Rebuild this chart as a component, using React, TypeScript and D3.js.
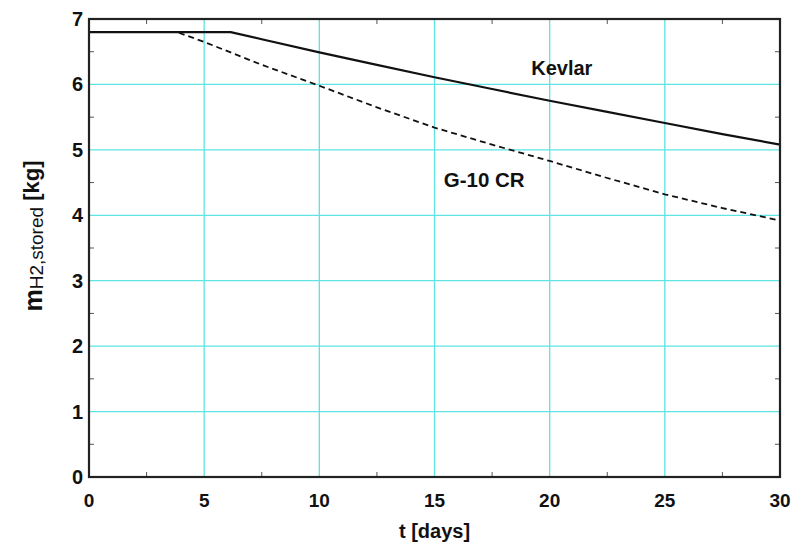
import * as d3 from 'd3';
import {useEffect, useRef} from 'react';

// t [days] / stored mass [kg]
const kevlarT = [0, 6.15, 7.5, 10, 12.5, 15, 17.5, 20, 22.5, 25, 27.5, 30];
const kevlarM = [6.8, 6.8, 6.69, 6.49, 6.3, 6.11, 5.93, 5.75, 5.58, 5.41, 5.24, 5.08];
const g10T = [0, 3.82, 5, 7.5, 10, 12.5, 15, 17.5, 20, 22.5, 25, 27.5, 30];
const g10M = [6.8, 6.8, 6.65, 6.3, 5.98, 5.65, 5.34, 5.08, 4.83, 4.57, 4.32, 4.11, 3.92];

const xTicks = [0, 5, 10, 15, 20, 25, 30];
const yTicks = [0, 1, 2, 3, 4, 5, 6, 7];
const xMinor = [2.5, 7.5, 12.5, 17.5, 22.5, 27.5];
const yMinor = [0.5, 1.5, 2.5, 3.5, 4.5, 5.5, 6.5];

const W = 802;
const H = 544;
const margin = {top: 19, right: 22, bottom: 67, left: 89};

export default function App() {
	const svgRef = useRef<SVGSVGElement>(null);

	useEffect(() => {
		const svg = d3.select(svgRef.current);
		svg.selectAll('*').remove();

		const iw = W - margin.left - margin.right;
		const ih = H - margin.top - margin.bottom;
		const x = d3.scaleLinear().domain([0, 30]).range([0, iw]);
		const y = d3.scaleLinear().domain([0, 7]).range([ih, 0]);

		const g = svg.append('g').attr('transform', `translate(${margin.left},${margin.top})`);

		// grid
		g.selectAll('.gx')
			.data(xTicks.slice(1, -1))
			.join('line')
			.attr('x1', (d) => x(d))
			.attr('x2', (d) => x(d))
			.attr('y1', 0)
			.attr('y2', ih)
			.attr('stroke', '#5fe3e3')
			.attr('stroke-width', 1.3);
		g.selectAll('.gy')
			.data(yTicks.slice(1, -1))
			.join('line')
			.attr('x1', 0)
			.attr('x2', iw)
			.attr('y1', (d) => y(d))
			.attr('y2', (d) => y(d))
			.attr('stroke', '#5fe3e3')
			.attr('stroke-width', 1.3);

		// minor ticks, inward on all sides
		const tk = 5;
		xMinor.forEach((t) => {
			g.append('line').attr('x1', x(t)).attr('x2', x(t)).attr('y1', ih).attr('y2', ih - tk).attr('stroke', '#555').attr('stroke-width', 1);
			g.append('line').attr('x1', x(t)).attr('x2', x(t)).attr('y1', 0).attr('y2', tk).attr('stroke', '#555').attr('stroke-width', 1);
		});
		yMinor.forEach((v) => {
			g.append('line').attr('x1', 0).attr('x2', tk).attr('y1', y(v)).attr('y2', y(v)).attr('stroke', '#555').attr('stroke-width', 1);
			g.append('line').attr('x1', iw).attr('x2', iw - tk).attr('y1', y(v)).attr('y2', y(v)).attr('stroke', '#555').attr('stroke-width', 1);
		});

		// curves
		const line = d3
			.line<[number, number]>()
			.x((d) => x(d[0]))
			.y((d) => y(d[1]));

		g.append('path')
			.datum(g10T.map((t, i) => [t, g10M[i]] as [number, number]))
			.attr('d', line)
			.attr('fill', 'none')
			.attr('stroke', '#111')
			.attr('stroke-width', 1.8)
			.attr('stroke-dasharray', '6,4');

		g.append('path')
			.datum(kevlarT.map((t, i) => [t, kevlarM[i]] as [number, number]))
			.attr('d', line)
			.attr('fill', 'none')
			.attr('stroke', '#111')
			.attr('stroke-width', 2.2)
			.attr('stroke-linejoin', 'round');

		// frame
		g.append('rect')
			.attr('width', iw)
			.attr('height', ih)
			.attr('fill', 'none')
			.attr('stroke', '#222')
			.attr('stroke-width', 2.2);

		const font = 'Liberation Sans, Arial, sans-serif';

		g.selectAll('.xl')
			.data(xTicks)
			.join('text')
			.attr('x', (d) => x(d))
			.attr('y', ih + 30)
			.attr('text-anchor', 'middle')
			.attr('font-family', font)
			.attr('font-weight', 'bold')
			.attr('font-size', 19)
			.attr('fill', '#111')
			.text((d) => d);

		g.selectAll('.yl')
			.data(yTicks)
			.join('text')
			.attr('x', -6)
			.attr('y', (d) => y(d) + 7)
			.attr('text-anchor', 'end')
			.attr('font-family', font)
			.attr('font-weight', 'bold')
			.attr('font-size', 20)
			.attr('fill', '#111')
			.text((d) => d);

		// series labels
		g.append('text')
			.attr('x', x(19.2))
			.attr('y', y(6.15))
			.attr('font-family', font)
			.attr('font-weight', 'bold')
			.attr('font-size', 20)
			.attr('fill', '#111')
			.text('Kevlar');
		g.append('text')
			.attr('x', x(15.4))
			.attr('y', y(4.43))
			.attr('font-family', font)
			.attr('font-weight', 'bold')
			.attr('font-size', 20.5)
			.attr('fill', '#111')
			.text('G-10 CR');

		// axis titles
		svg.append('text')
			.attr('x', margin.left + iw / 2)
			.attr('y', 538)
			.attr('text-anchor', 'middle')
			.attr('font-family', font)
			.attr('font-weight', 'bold')
			.attr('font-size', 20)
			.attr('fill', '#111')
			.text('t [days]');

		const yt = svg
			.append('text')
			.attr('transform', 'translate(42,236) rotate(-90)')
			.attr('text-anchor', 'middle')
			.attr('font-family', font)
			.attr('font-weight', 'bold')
			.attr('fill', '#111');
		yt.append('tspan').attr('font-size', 25).text('m');
		yt.append('tspan').attr('font-size', 19).attr('font-weight', 'normal').attr('dy', 1).text('H2,stored');
		yt.append('tspan').attr('font-size', 22).attr('dy', -4).text(' [kg]');
	}, []);

	return (
		<svg
			ref={svgRef}
			width={W}
			height={H}
			style={{position: 'absolute', left: 0, top: 0, background: '#fff'}}
		/>
	);
}
